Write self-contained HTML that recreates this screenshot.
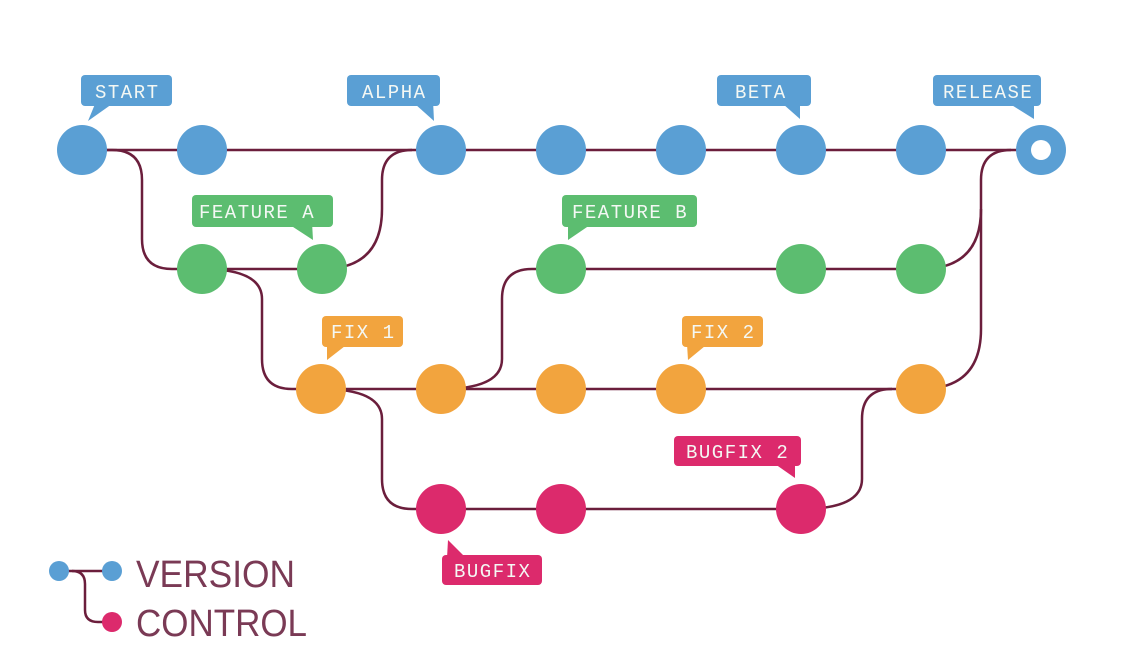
<!DOCTYPE html>
<html><head><meta charset="utf-8"><style>
html,body{margin:0;padding:0;background:#fff;}
svg{display:block;}
.t{font-family:"Liberation Mono",monospace;font-size:19px;fill:#f4f8f4;letter-spacing:1.5px;}
</style></head><body>
<svg width="1131" height="660" viewBox="0 0 1131 660" xmlns="http://www.w3.org/2000/svg">
<g fill="none" stroke="#6b1e3c" stroke-width="2.5">
<path d="M82,150 H1041"/>
<path d="M82,150 H112 Q142,150 142,180 V239 Q142,269 172,269 H322 Q382,269 382,209 V180 Q382,150 412,150"/>
<path d="M202,269 Q262,269 262,299 V359 Q262,389 292,389 H921 Q981,389 981,329 V180 Q981,150 1011,150"/>
<path d="M441,389 Q502,389 502,359 V299 Q502,269 532,269 H921 Q981,269 981,209"/>
<path d="M321,389 Q382,389 382,419 V479 Q382,509 412,509 H801 Q862,509 862,479 V419 Q862,389 892,389"/>
</g>
<g fill="#5a9fd4">
<circle cx="82" cy="150" r="25"/><circle cx="202" cy="150" r="25"/><circle cx="441" cy="150" r="25"/><circle cx="561" cy="150" r="25"/><circle cx="681" cy="150" r="25"/><circle cx="801" cy="150" r="25"/><circle cx="921" cy="150" r="25"/><circle cx="1041" cy="150" r="25"/>
</g>
<circle cx="1041" cy="150" r="10" fill="#fff"/>
<g fill="#5cbd70">
<circle cx="202" cy="269" r="25"/><circle cx="322" cy="269" r="25"/><circle cx="561" cy="269" r="25"/><circle cx="801" cy="269" r="25"/><circle cx="921" cy="269" r="25"/>
</g>
<g fill="#f2a43e">
<circle cx="321" cy="389" r="25"/><circle cx="441" cy="389" r="25"/><circle cx="561" cy="389" r="25"/><circle cx="681" cy="389" r="25"/><circle cx="921" cy="389" r="25"/>
</g>
<g fill="#dc2a6c">
<circle cx="441" cy="509" r="25"/><circle cx="561" cy="509" r="25"/><circle cx="801" cy="509" r="25"/>
</g>
<g fill="#5a9fd4">
<rect x="81" y="75" width="91" height="31" rx="4"/><polygon points="95,104 112,104 88,121"/>
<rect x="347" y="75" width="93" height="31" rx="4"/><polygon points="415,104 433,100 434,121"/>
<rect x="717" y="75" width="94" height="31" rx="4"/><polygon points="783,104 800,100 800,119"/>
<rect x="933" y="75" width="108" height="31" rx="4"/><polygon points="1010,104 1034,100 1034,119"/>
</g>
<g fill="#5cbd70">
<rect x="192" y="195" width="141" height="32" rx="4"/><polygon points="290,225 312,222 313,240"/>
<rect x="562" y="195" width="135" height="32" rx="4"/><polygon points="568,222 590,225 568,240"/>
</g>
<g fill="#f2a43e">
<rect x="322" y="316" width="81" height="31" rx="4"/><polygon points="327,344 345,346 327,360"/>
<rect x="682" y="316" width="81" height="31" rx="4"/><polygon points="687,344 705,346 688,360"/>
</g>
<g fill="#dc2a6c">
<rect x="674" y="436" width="127" height="30" rx="4"/><polygon points="775,464 795,462 795,478"/>
<rect x="442" y="555" width="100" height="30" rx="4"/><polygon points="447,558 465,557 448,540"/>
</g>
<text class="t" x="95" y="98">START</text>
<text class="t" x="362" y="98">ALPHA</text>
<text class="t" x="735" y="98">BETA</text>
<text class="t" x="943" y="98">RELEASE</text>
<text class="t" x="199" y="218">FEATURE A</text>
<text class="t" x="572" y="218">FEATURE B</text>
<text class="t" x="331" y="338">FIX 1</text>
<text class="t" x="691" y="338">FIX 2</text>
<text class="t" x="686" y="458">BUGFIX 2</text>
<text class="t" x="454" y="577">BUGFIX</text>
<g fill="none" stroke="#6b1e3c" stroke-width="2.5">
<path d="M59,571 H112"/>
<path d="M72,571 Q85,571 85,584 V610 Q85,622 98,622 H112"/>
</g>
<circle cx="59" cy="571" r="10" fill="#5a9fd4"/>
<circle cx="112" cy="571" r="10" fill="#5a9fd4"/>
<circle cx="112" cy="622" r="10" fill="#dc2a6c"/>
<text x="136" y="587" font-family="Liberation Sans, sans-serif" font-size="38" fill="#7a3a55" textLength="159" lengthAdjust="spacingAndGlyphs">VERSION</text>
<text x="136" y="636" font-family="Liberation Sans, sans-serif" font-size="38" fill="#7a3a55" textLength="171" lengthAdjust="spacingAndGlyphs">CONTROL</text>
</svg>
</body></html>
